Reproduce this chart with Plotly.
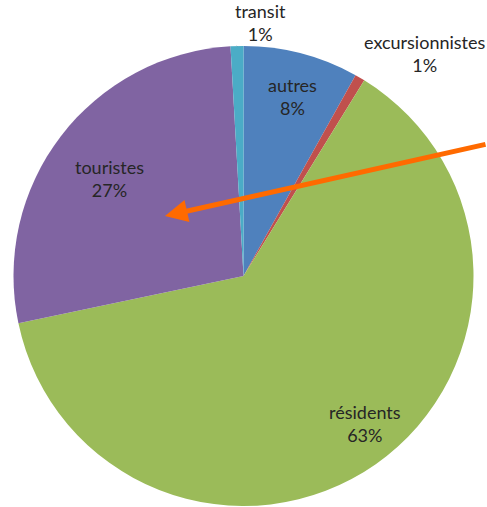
import math
import plotly.graph_objects as go

categories = ["autres", "excursionnistes", "résidents", "touristes", "transit"]
values = [8.1, 0.7, 62.9, 27.4, 0.9]
colors = ["#4F81BD", "#C0504D", "#9BBB59", "#8064A2", "#4BACC6"]

W, H = 487, 507
# pie geometry in pixels (used only to place labels from the data angles)
CX, CY, R = 243.5, 276.0, 230.0
FONT = dict(family="Lato, sans-serif", size=18, color="#262626")

fig = go.Figure(go.Pie(
    labels=categories,
    values=values,
    sort=False,
    direction="clockwise",
    rotation=0,
    marker=dict(colors=colors, line=dict(width=0)),
    textinfo="none",
    showlegend=False,
    hoverinfo="skip",
    domain=dict(x=[(CX - R) / W, (CX + R) / W], y=[1 - (CY + R) / H, 1 - (CY - R) / H]),
))

total = sum(values)
mids = []
cum = 0.0
for v in values:
    mids.append((cum + v / 2) / total * 2 * math.pi)
    cum += v

def pct(v):
    return f"{round(v / total * 100):d}%"

def polar(angle, k):
    px = CX + k * R * math.sin(angle)
    py = CY - k * R * math.cos(angle)
    return px / W, 1 - py / H

# inside labels: placed along each slice's mid angle (radial factor, angle nudge in degrees)
inside = {"autres": (0.81, 0.7), "résidents": (0.83, -4.5), "touristes": (0.72, -1.4)}
for i, name in enumerate(categories):
    if name in inside:
        k, nudge = inside[name]
        x, y = polar(mids[i] + math.radians(nudge), k)
        fig.add_annotation(x=x, y=y, xref="paper", yref="paper",
                           xanchor="center", yanchor="middle",
                           text=f"{name}<br>{pct(values[i])}", showarrow=False,
                           font=FONT, align="center")

# excursionnistes: outside label
i = categories.index("excursionnistes")
fig.add_annotation(x=425 / W, y=1 - 54 / H, xref="paper", yref="paper",
                   xanchor="center", yanchor="middle",
                   text=f"{categories[i]}<br>{pct(values[i])}", showarrow=False,
                   font=FONT, align="center")

# transit: outside label with leader line to the slice edge
i = categories.index("transit")
ex, ey = polar(mids[i], 1.0)
fig.add_annotation(x=ex, y=ey, xref="paper", yref="paper",
                   xanchor="center", yanchor="middle",
                   text=f"{categories[i]}<br>{pct(values[i])}", showarrow=True,
                   arrowhead=0, arrowwidth=1.2, arrowcolor="#262626",
                   ax=260 - ex * W, ay=22 - (1 - ey) * H,
                   font=FONT, align="center")

# orange arrow
fig.add_annotation(
    x=165 / W, y=1 - 216 / H, xref="paper", yref="paper",
    ax=330, ay=-72, showarrow=True, arrowhead=2, arrowsize=0.9,
    arrowwidth=5, arrowcolor="#FF6A00", text="",
)

fig.update_layout(
    width=W, height=H,
    margin=dict(l=0, r=0, t=0, b=0),
    paper_bgcolor="white",
    plot_bgcolor="white",
)

fig.write_html("out.html", config={"displayModeBar": False},
               post_script="document.body.style.margin='0';")
